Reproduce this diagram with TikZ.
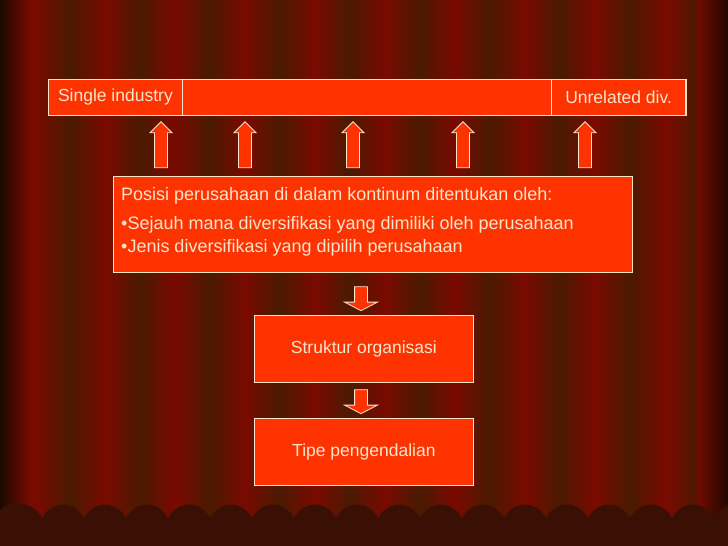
\documentclass[tikz,border=0pt]{standalone}
\usepackage{fontspec}
\setmainfont{Liberation Sans}
\usetikzlibrary{shapes.arrows}
\definecolor{boxfill}{HTML}{FF3300}
\definecolor{txt}{HTML}{FFE4C8}
\definecolor{bgA}{HTML}{7A0A00}
\definecolor{bgB}{HTML}{4A1A00}
\definecolor{fringe}{HTML}{3A1004}
\tikzset{
  box/.style={draw=txt, line width=0.8pt, fill=boxfill, text=txt, font=\fontsize{17.5}{21}\selectfont},
  uparr/.style={single arrow, draw=txt, line width=0.8pt, fill=boxfill, minimum height=46pt, minimum width=22pt, single arrow head extend=3pt, shape border rotate=90, inner sep=4pt},
  downarr/.style={single arrow, draw=txt, line width=0.8pt, fill=boxfill, minimum height=24pt, inner sep=6pt, single arrow head extend=10pt, single arrow tip angle=125, shape border rotate=270}
}
\begin{document}
\begin{tikzpicture}[x=1pt,y=-1pt]
\useasboundingbox (0,0) rectangle (728,546);
\fill[bgA] (0,0) rectangle (728,546);
\foreach \x in {0,70,140,210,280,350,420,490,560,630,700} {
  \shade[left color=bgB, right color=bgA] (\x,0) rectangle (\x+35,546);
  \shade[left color=bgA, right color=bgB] (\x+35,0) rectangle (\x+70,546);
}
\shade[left color=black!80!bgB, right color=bgA, opacity=0.8] (0,0) rectangle (30,546);
\shade[left color=bgA, right color=black!80!bgB, opacity=0.8] (698,0) rectangle (728,546);
\fill[fringe] (0,546) -- (0,510)
  \foreach \i in {0,...,17} { .. controls (\i*42+10,500) and (\i*42+32,500) .. (\i*42+42,518) }
  -- (728,546) -- cycle;
% top bar
\node[box, minimum width=638pt, minimum height=36pt, anchor=north west, inner sep=0pt] (bar) at (48,79) {};
\node[box, minimum width=134pt, minimum height=36pt, anchor=north west, inner sep=0pt] (single) at (48,79) {Single industry};
\node[box, minimum width=134pt, minimum height=36pt, anchor=north east, inner sep=0pt] (unrel) at (686,79) {Unrelated div.};
% up arrows
\foreach \x/\n in {161/a1,245/a2,353/a3,463/a4,585/a5}
  \node[uparr] (\n) at (\x,148) {};
% main box
\node[box, minimum width=519pt, minimum height=96pt, anchor=north west, inner sep=0pt] (main) at (113,176) {};
\node[text=txt, font=\fontsize{18}{21}\selectfont, anchor=north west, align=left, inner sep=0pt] (maintext) at (121,187)
  {Posisi perusahaan di dalam kontinum ditentukan oleh:\\[8pt]
   •Sejauh mana diversifikasi yang dimiliki oleh perusahaan\\[2pt]
   •Jenis diversifikasi yang dipilih perusahaan};
\node[downarr] (d1) at (361,297) {};
\node[box, minimum width=219pt, minimum height=67pt, anchor=north west, inner sep=0pt] (struk) at (254,315) {Struktur organisasi};
\node[downarr] (d2) at (361,400) {};
\node[box, minimum width=219pt, minimum height=67pt, anchor=north west, inner sep=0pt] (tipe) at (254,418) {Tipe pengendalian};
\end{tikzpicture}
\end{document}
